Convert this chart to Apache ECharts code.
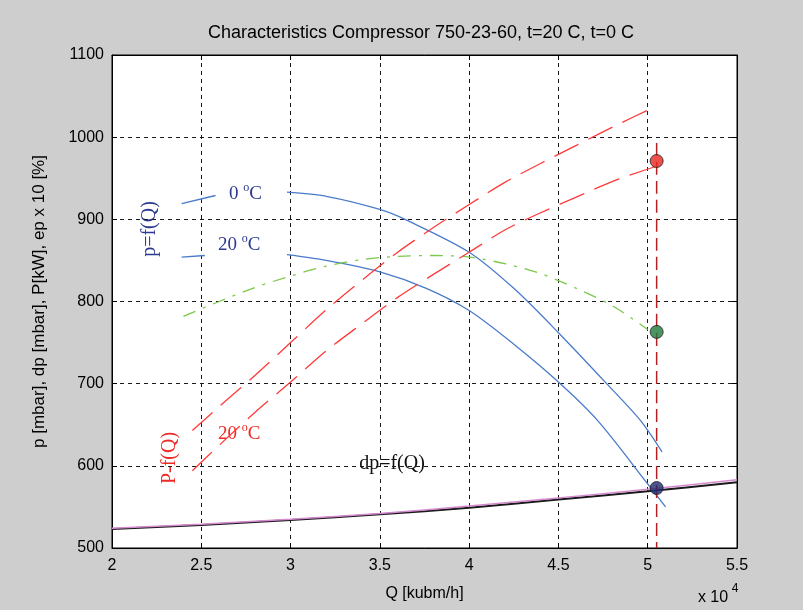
<!DOCTYPE html>
<html><head><meta charset="utf-8">
<script src="https://cdn.jsdelivr.net/npm/echarts@6/dist/echarts.min.js"></script>
<style>html,body{margin:0;padding:0;background:#cecece}#c{width:803px;height:610px}</style>
</head><body><div id="c"></div>
<script>
// ---- data (Q in m3/h) ----
const xTicks = [20000, 25000, 30000, 35000, 40000, 45000, 50000, 55000];
const yTicks = [500, 600, 700, 800, 900, 1000, 1100];

const p0Q = [29800, 32000, 35000, 36500, 40000, 42500, 45000, 47700, 49600, 50800];
const p0V = [933, 928, 912, 899, 860, 816, 762, 700, 655, 617];

const p20Q = [29800, 32000, 35000, 37600, 40000, 42500, 45000, 47200, 50000, 51000];
const p20V = [857, 850, 836, 816, 789, 748, 702, 655, 578, 550];

const epQ = [24000, 26000, 28000, 30000, 32000, 34000, 36000, 38000, 40000, 42000, 44000, 46000, 48000, 50000];
const epV = [782, 800, 817, 831, 843, 851, 855, 856, 854, 846, 834, 816, 795, 766];

const P0Q = [24500, 26000, 28000, 30000, 32000, 34000, 36000, 38000, 40000, 42000, 44000, 46000, 48000, 50500];
const P0V = [643, 672, 710, 750, 790, 826, 860, 890, 918, 945, 968, 990, 1012, 1038];

const P20Q = [24500, 26000, 28000, 30000, 32000, 34000, 36000, 38000, 40000, 42000, 44000, 46000, 48000, 50400];
const P20V = [594, 625, 665, 702, 740, 773, 805, 833, 860, 887, 908, 927, 946, 964];

const dpQ = [20000, 25000, 30000, 35000, 40000, 45000, 50000, 55000];
const dpBlackV = [523, 528, 534, 541, 549, 559, 569, 580];
const dpPinkV = [524, 529, 535, 542, 551, 561, 571.5, 583];

const opQ = 50500;
const opLineV = [993, 500];
const opPointV = [971, 763, 573];

const lead0Q = [23900, 25800];
const lead0V = [919, 929];
const lead20Q = [23900, 25200];
const lead20V = [854, 856];

const zip = (a, b) => a.map((v, i) => [v, b[i]]);

const chart = echarts.init(document.getElementById('c'));
const SANS = 'Liberation Sans';
const SERIF = 'Liberation Serif';
const line = (q, v, color, width, type, z) => ({
  type: 'line', data: zip(q, v), smooth: 0.3, showSymbol: false, silent: true,
  lineStyle: { color, width, type }, z: z || 2, animation: false
});
const degText = (num, x, y, color) => ({
  type: 'text', left: x, top: y, silent: true,
  style: {
    text: '{a|' + num + ' }{s|o}{a|C}',
    fill: color,
    rich: {
      a: { fontFamily: SERIF, fontSize: 19, fill: color, lineHeight: 22, verticalAlign: 'bottom' },
      s: { fontFamily: SERIF, fontSize: 12, fill: color, lineHeight: 22, verticalAlign: 'top' }
    }
  }
});

chart.setOption({
  backgroundColor: '#cecece',
  animation: false,
  grid: { left: 112, top: 55, width: 625, height: 493, show: true, backgroundColor: '#ffffff', borderColor: '#000', borderWidth: 1 },
  xAxis: [{
    type: 'value', min: 20000, max: 55000, interval: 5000,
    name: 'Q [kubm/h]', nameLocation: 'middle', nameGap: 38,
    nameTextStyle: { fontFamily: SANS, fontSize: 16, color: '#000' },
    axisLine: { show: true, lineStyle: { color: '#000' } },
    axisTick: { show: true, inside: true, length: 5, lineStyle: { color: '#000' } },
    axisLabel: { fontFamily: SANS, fontSize: 16, color: '#000', margin: 10,
      formatter: v => xTicks.includes(v) ? String(v / 10000) : '' },
    splitLine: { show: true, lineStyle: { color: '#1a1a1a', width: 1, type: [4, 4] } }
  }, {
    type: 'value', min: 20000, max: 55000, interval: 5000, position: 'top',
    axisLine: { show: true, lineStyle: { color: '#000' } },
    axisTick: { show: true, inside: true, length: 5, lineStyle: { color: '#000' } },
    axisLabel: { show: false }, splitLine: { show: false }
  }],
  yAxis: [{
    type: 'value', min: 500, max: 1100, interval: 100,
    name: 'p [mbar], dp [mbar], P[kW], ep x 10 [%]', nameLocation: 'middle', nameGap: 64,
    nameTextStyle: { fontFamily: SANS, fontSize: 17, color: '#000' },
    axisLine: { show: true, lineStyle: { color: '#000' } },
    axisTick: { show: true, inside: true, length: 5, lineStyle: { color: '#000' } },
    axisLabel: { fontFamily: SANS, fontSize: 16, color: '#000', margin: 8,
      formatter: v => yTicks.includes(v) ? String(v) : '' },
    splitLine: { show: true, lineStyle: { color: '#1a1a1a', width: 1, type: [4, 4] } }
  }, {
    type: 'value', min: 500, max: 1100, interval: 100, position: 'right',
    axisLine: { show: true, lineStyle: { color: '#000' } },
    axisTick: { show: true, inside: true, length: 5, lineStyle: { color: '#000' } },
    axisLabel: { show: false }, splitLine: { show: false }
  }],
  series: [
    line(dpQ, dpBlackV, '#1a1a1a', 2, 'solid', 3),
    line(dpQ, dpPinkV, '#d58ad0', 1.5, 'solid', 4),
    line(p0Q, p0V, '#4a7acb', 1.3, 'solid', 3),
    line(p20Q, p20V, '#4a7acb', 1.3, 'solid', 3),
    line(lead0Q, lead0V, '#4a7acb', 1.3, 'solid', 3),
    line(lead20Q, lead20V, '#4a7acb', 1.3, 'solid', 3),
    line(epQ, epV, '#7cc84a', 1.3, [13, 8, 3, 8], 3),
    line(P0Q, P0V, '#ff3a3a', 1.3, [27, 11], 3),
    line(P20Q, P20V, '#ff3a3a', 1.3, [27, 11], 3),
    line([opQ, opQ], opLineV, '#b42020', 1.5, [13, 6], 5),
    {
      type: 'scatter', silent: true, z: 6, symbolSize: 13,
      data: [
        { value: [opQ, opPointV[0]], itemStyle: { color: '#e8261e' } },
        { value: [opQ, opPointV[1]], itemStyle: { color: '#1e7a3c' } },
        { value: [opQ, opPointV[2]], itemStyle: { color: '#1f2a70' } }
      ],
      itemStyle: { borderColor: '#222', borderWidth: 1 }
    }
  ],
  graphic: [
    { type: 'text', x: 421, y: 33, silent: true,
      style: { text: 'Characteristics Compressor 750-23-60, t=20 C, t=0 C', fontFamily: SANS, fontSize: 18,
        fill: '#000', textAlign: 'center', textVerticalAlign: 'middle' } },
    { type: 'text', x: 713, y: 598, silent: true,
      style: { text: 'x 10', fontFamily: SANS, fontSize: 16, fill: '#000', textAlign: 'center', textVerticalAlign: 'middle' } },
    { type: 'text', x: 735, y: 589, silent: true,
      style: { text: '4', fontFamily: SANS, fontSize: 12, fill: '#000', textAlign: 'center', textVerticalAlign: 'middle' } },
    { type: 'text', x: 150, y: 229, rotation: Math.PI / 2, silent: true,
      style: { text: 'p=f(Q)', fontFamily: SERIF, fontSize: 20, fill: '#2b3990', textAlign: 'center', textVerticalAlign: 'middle' } },
    { type: 'text', x: 170, y: 458, rotation: Math.PI / 2, silent: true,
      style: { text: 'P-f(Q)', fontFamily: SERIF, fontSize: 20, fill: '#ee2a24', textAlign: 'center', textVerticalAlign: 'middle' } },
    { type: 'text', x: 392, y: 464, silent: true,
      style: { text: 'dp=f(Q)', fontFamily: SERIF, fontSize: 20, fill: '#111', textAlign: 'center', textVerticalAlign: 'middle' } },
    degText('0', 229, 182, '#2b3990'),
    degText('20', 218, 233, '#2b3990'),
    degText('20', 218, 422, '#ee2a24')
  ]
});
</script></body></html>
